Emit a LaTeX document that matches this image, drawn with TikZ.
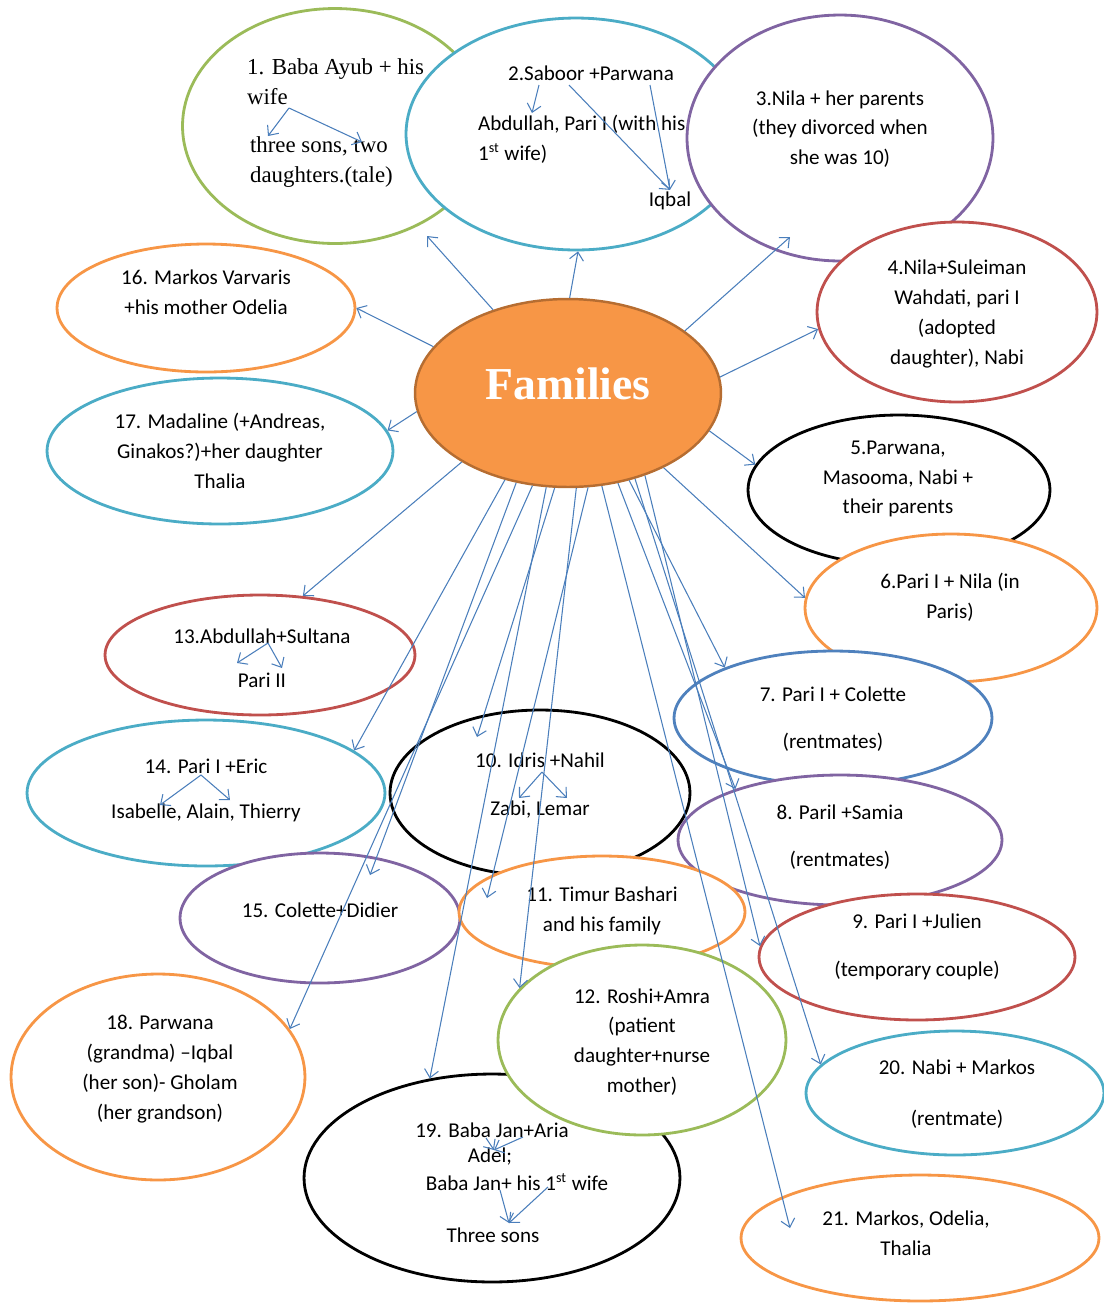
\documentclass[tikz,border=0pt]{standalone}
\usepackage{fontspec}
\setmainfont{Carlito}
\newfontfamily\timesfont{Liberation Serif}
\usetikzlibrary{shapes.geometric, arrows.meta, calc}
\definecolor{cgreen}{HTML}{9BBB59}
\definecolor{cteal}{HTML}{4BACC6}
\definecolor{cpurple}{HTML}{8064A2}
\definecolor{cred}{HTML}{C0504D}
\definecolor{corange}{HTML}{F79646}
\definecolor{cblue}{HTML}{4F81BD}
\definecolor{hubedge}{HTML}{B66D31}
\definecolor{cline}{HTML}{4A7EBB}
\tikzstyle{fam} = [ellipse, draw, line width=1.6pt, fill=white, inner sep=0pt]
\tikzstyle{hub} = [ellipse, draw=hubedge, fill=corange, line width=1.4pt, text=white, text depth=11pt, font=\timesfont\bfseries\fontsize{26}{30}\selectfont]
\tikzstyle{txt} = [align=center, inner sep=1pt, font=\fontsize{12}{17}\selectfont]
\tikzstyle{tale} = [align=left, inner sep=1pt, font=\timesfont\fontsize{13}{17}\selectfont]
\tikzstyle{link} = [draw=cline, line width=0.6pt, -{Straight Barb[length=4.5pt,width=8pt]}]

\begin{document}
\begin{tikzpicture}[x=0.02cm, y=-0.02cm]
	\useasboundingbox (0,0) rectangle (1104,1303);

	% Draw the families
	\node (f1) [fam, draw=cgreen, minimum width=6.1cm, minimum height=4.7cm] at (335,126) {};
	\node (f2) [fam, draw=cteal, minimum width=6.8cm, minimum height=4.64cm] at (576,134) {};
	\node (f3) [fam, draw=cpurple, minimum width=6.12cm, minimum height=4.92cm] at (840,138) {};
	\node (f4) [fam, draw=cred, minimum width=5.6cm, minimum height=3.6cm] at (957,312) {};
	\node (f5) [fam, draw=black, minimum width=6.04cm, minimum height=3.0cm] at (899,490) {};
	\node (f6) [fam, draw=corange, minimum width=5.84cm, minimum height=2.96cm] at (951,608) {};
	\node (f7) [fam, draw=cblue, minimum width=6.36cm, minimum height=2.68cm] at (833,718) {};
	\node (f8) [fam, draw=cpurple, minimum width=6.48cm, minimum height=2.6cm] at (840,840) {};
	\node (f9) [fam, draw=cred, minimum width=6.32cm, minimum height=2.52cm] at (917,957) {};
	\node (f20) [fam, draw=cteal, minimum width=5.96cm, minimum height=2.48cm] at (955,1093) {};
	\node (f21) [fam, draw=corange, minimum width=7.16cm, minimum height=2.52cm] at (920,1238) {};
	\node (f16) [fam, draw=corange, minimum width=5.96cm, minimum height=2.56cm] at (206,308) {};
	\node (f17) [fam, draw=cteal, minimum width=6.92cm, minimum height=2.92cm] at (220,451) {};
	\node (f13) [fam, draw=cred, minimum width=6.2cm, minimum height=2.4cm] at (260,655) {};
	\node (f14) [fam, draw=cteal, minimum width=7.16cm, minimum height=2.92cm] at (206,793) {};
	\node (f15) [fam, draw=cpurple, minimum width=5.6cm, minimum height=2.6cm] at (320,918) {};
	\node (f18) [fam, draw=corange, minimum width=5.88cm, minimum height=4.12cm] at (158,1077) {};
	\node (f10) [fam, draw=black, minimum width=6.0cm, minimum height=3.32cm] at (540,793) {};
	\node (f11) [fam, draw=corange, minimum width=5.72cm, minimum height=2.24cm] at (602,912) {};
	\node (f19) [fam, draw=black, minimum width=7.52cm, minimum height=4.16cm] at (492,1178) {};
	\node (f12) [fam, draw=cgreen, minimum width=5.76cm, minimum height=3.8cm] at (642,1040) {};
	\node (fam) [hub, minimum width=6.12cm, minimum height=3.76cm] at (568,393) {Families};

	% Texts
	\node (t1a) [tale, anchor=west] at (245,82) {1. Baba Ayub + his\\wife};
	\node (t1b) [tale, anchor=west] at (248,162) {three sons, two\\daughters.(tale)};
	\node (t2a) [txt] at (591,73) {2.Saboor +Parwana};
	\node (t2b) [txt, align=left, anchor=west] at (476,139) {Abdullah, Pari I (with his\\1\textsuperscript{st} wife)};
	\node (t2c) [txt] at (670,201) {Iqbal};
	\node (t3) [txt] at (840,129) {3.Nila + her parents\\(they divorced when\\she was 10)};
	\node (t4) [txt] at (957,314) {4.Nila+Suleiman\\Wahdati, pari I\\(adopted\\daughter), Nabi};
	\node (t5) [txt] at (898,479) {5.Parwana,\\Masooma, Nabi +\\their parents};
	\node (t6) [txt] at (950,597) {6.Pari I + Nila (in\\Paris)};
	\node (t7) [txt] at (833,719) {7. Pari I + Colette\\[10pt](rentmates)};
	\node (t8) [txt] at (840,837) {8. Paril +Samia\\[10pt](rentmates)};
	\node (t9) [txt] at (917,947) {9. Pari I +Julien\\[10pt](temporary couple)};
	\node (t20) [txt] at (957,1094) {20. Nabi + Markos\\[12pt](rentmate)};
	\node (t21) [txt] at (906,1233) {21. Markos, Odelia,\\Thalia};
	\node (t16) [txt] at (206,292) {16. Markos Varvaris\\+his mother Odelia};
	\node (t17) [txt] at (220,451) {17. Madaline (+Andreas,\\Ginakos?)+her daughter\\Thalia};
	\node (t13a) [txt] at (262,636) {13.Abdullah+Sultana};
	\node (t13b) [txt] at (262,680) {Pari II};
	\node (t14a) [txt] at (206,766) {14. Pari I +Eric};
	\node (t14b) [txt] at (206,813) {Isabelle, Alain, Thierry};
	\node (t15) [txt] at (320,910) {15. Colette+Didier};
	\node (t10a) [txt] at (540,760) {10. Idris +Nahil};
	\node (t10b) [txt] at (540,810) {Zabi, Lemar};
	\node (t11) [txt] at (602,911) {11. Timur Bashari\\and his family};
	\node (t12) [txt] at (642,1042) {12. Roshi+Amra\\(patient\\daughter+nurse\\mother)};
	\node (t18) [txt] at (160,1069) {18. Parwana\\(grandma) --Iqbal\\(her son)- Gholam\\(her grandson)};
	\node (t19a) [txt] at (492,1130) {19. Baba Jan+Aria};
	\node (t19b) [txt] at (490,1157) {Adel;};
	\node (t19c) [txt] at (517,1182) {Baba Jan+ his 1\textsuperscript{st} wife};
	\node (t19d) [txt] at (493,1235) {Three sons};

	% Forks inside the families
	\coordinate (k1) at (289,108);
	\coordinate (k1l) at (268,136);
	\coordinate (k1r) at (362,142);
	\coordinate (k2a) at (539,85);
	\coordinate (k2b) at (569,85);
	\coordinate (k2c) at (650,85);
	\coordinate (k2l) at (532,113);
	\coordinate (k13) at (268,643);
	\coordinate (k13l) at (237,663);
	\coordinate (k13r) at (282,668);
	\coordinate (k14) at (201,775);
	\coordinate (k14l) at (160,805);
	\coordinate (k14r) at (230,800);
	\coordinate (k10) at (542,772);
	\coordinate (k10l) at (519,798);
	\coordinate (k10r) at (567,798);
	\coordinate (k19a) at (486,1138);
	\coordinate (k19b) at (523,1137);
	\coordinate (k19m) at (494,1150);
	\coordinate (k19c) at (500,1190);
	\coordinate (k19d) at (548,1187);
	\coordinate (k19s) at (509,1223);

	\draw [link] (k1) -- (k1l);
	\draw [link] (k1) -- (k1r);
	\draw [link] (k2a) -- (k2l);
	\draw [link] (k2b) -- (t2c.north);
	\draw [link] (k2c) -- (t2c.north);
	\draw [link] (k13) -- (k13l);
	\draw [link] (k13) -- (k13r);
	\draw [link] (k14) -- (k14l);
	\draw [link] (k14) -- (k14r);
	\draw [link] (k10) -- (k10l);
	\draw [link] (k10) -- (k10r);
	\draw [link] (k19a) -- (k19m);
	\draw [link] (k19b) -- (k19m);
	\draw [link] (k19c) -- (k19s);
	\draw [link] (k19d) -- (k19s);

	% Draw the arrows
	\draw [link] (fam.132) -- ($(f1)+(92,110)$);
	\draw [link] (fam.89) -- (f2.-89);
	\draw [link] (fam.28) -- ($(f3)+(-50,99)$);
	\draw [link] (fam.6) -- (f4.187);
	\draw [link] (fam.-15) -- (f5.170);
	\draw [link] (fam.-38) -- (f6.176);
	\draw [link] (fam.-55) -- (f7.155);
	\draw [link] (fam.-61) -- (f8.154);
	\draw [link] (fam.-47) -- (f9.176);
	\draw [link] (fam.-52) -- (f20.168);
	\draw [link] (fam.-70) -- ($(f21)+(-130,-10)$);
	\draw [link] (fam.161) -- (f16.east);
	\draw [link] (fam.-173) -- (f17.7);
	\draw [link] (fam.-147) -- (f13.54);
	\draw [link] (fam.-126) -- (f14.16);
	\draw [link] (fam.-120) -- ($(f15)+(50,-43)$);
	\draw [link] (fam.-111) -- (f18.20);
	\draw [link] (fam.-103) -- (f19.122);
	\draw [link] (fam.-98) -- ($(f10)+(-63,-56)$);
	\draw [link] (fam.-85) -- (f12.157);
	\draw [link] (fam.-78) -- ($(f11)+(-115,-14)$);

\end{tikzpicture}
\end{document}
